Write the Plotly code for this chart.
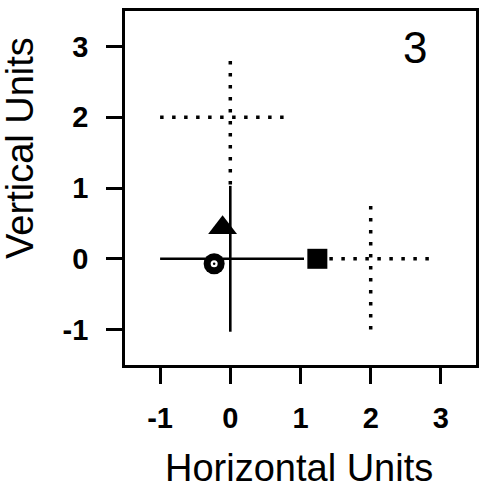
import plotly.graph_objects as go

# Solid cross centred on the origin
solid_h_x = [-1.0, 1.05]
solid_h_y = [0.0, 0.0]
solid_v_x = [0.0, 0.0]
solid_v_y = [-1.03, 1.03]

# Dotted cross around (0, 2)
upper_h_x = [-1.0, 0.88]
upper_h_y = [2.0, 2.0]
upper_v_x = [0.0, 0.0]
upper_v_y = [1.05, 2.86]

# Dotted cross around (2, 0)
right_h_x = [1.24, 2.88]
right_h_y = [0.0, 0.0]
right_v_x = [2.0, 2.0]
right_v_y = [-1.0, 0.85]

# Point markers
tri_x, tri_y = [-0.11], [0.44]
circ_x, circ_y = [-0.23], [-0.07]
sq_x, sq_y = [1.24], [0.0]

tick_vals = [-1, 0, 1, 2, 3]
tick_text = ["-1", "0", "1", "2", "3"]

FONT = "Liberation Sans, Arial, Helvetica, sans-serif"
DOT = "3.5px,8.5px"

fig = go.Figure()

def seg(x, y, dash="solid", width=2.6):
    fig.add_trace(go.Scatter(x=x, y=y, mode="lines",
                             line=dict(color="black", width=width, dash=dash),
                             hoverinfo="skip", showlegend=False))

seg(upper_h_x, upper_h_y, DOT, 3.5)
seg(upper_v_x, upper_v_y, DOT, 3.5)
seg(right_h_x, right_h_y, DOT, 3.5)
seg(right_v_x, right_v_y, DOT, 3.5)
seg(solid_h_x, solid_h_y)
seg(solid_v_x, solid_v_y)

fig.add_trace(go.Scatter(x=tri_x, y=tri_y, mode="markers",
                         marker=dict(symbol="triangle-up", size=25, color="black"),
                         showlegend=False))
fig.add_trace(go.Scatter(x=sq_x, y=sq_y, mode="markers",
                         marker=dict(symbol="square", size=20, color="black"),
                         showlegend=False))
fig.add_trace(go.Scatter(x=circ_x, y=circ_y, mode="markers",
                         marker=dict(symbol="circle", size=21, color="black"),
                         showlegend=False))
fig.add_trace(go.Scatter(x=circ_x, y=circ_y, mode="markers",
                         marker=dict(symbol="circle", size=7, color="white"),
                         showlegend=False))
fig.add_trace(go.Scatter(x=circ_x, y=circ_y, mode="markers",
                         marker=dict(symbol="circle", size=2.5, color="black"),
                         showlegend=False))

axis_common = dict(
    showgrid=False, zeroline=False,
    showline=True, linecolor="black", linewidth=2.6, mirror=True,
    ticks="outside", ticklen=16, tickwidth=2.6, tickcolor="black",
    tickvals=tick_vals, ticktext=tick_text,
    tickfont=dict(family=FONT, size=29, color="black", weight="bold"),
)

fig.update_xaxes(range=[-1.5, 3.5], ticklabelstandoff=9, **axis_common)
fig.update_yaxes(range=[-1.5, 3.5], ticklabelstandoff=12, **axis_common)

fig.update_layout(
    width=485, height=489,
    margin=dict(l=125, r=6, t=11, b=124),
    paper_bgcolor="white", plot_bgcolor="white",
    annotations=[
        dict(text="3", xref="paper", yref="paper", x=0.825, y=0.898,
             xanchor="center", yanchor="middle", showarrow=False,
             font=dict(family=FONT, size=44, color="black")),
        dict(text="Horizontal Units", xref="paper", yref="paper", x=0.497, y=-0.291,
             xanchor="center", yanchor="middle", showarrow=False,
             font=dict(family=FONT, size=38, color="black")),
        dict(text="Vertical Units", xref="paper", yref="paper", x=-0.2994, y=0.613,
             xanchor="center", yanchor="middle", showarrow=False, textangle=-90,
             font=dict(family=FONT, size=38, color="black")),
    ],
)

fig.write_html("out.html")
